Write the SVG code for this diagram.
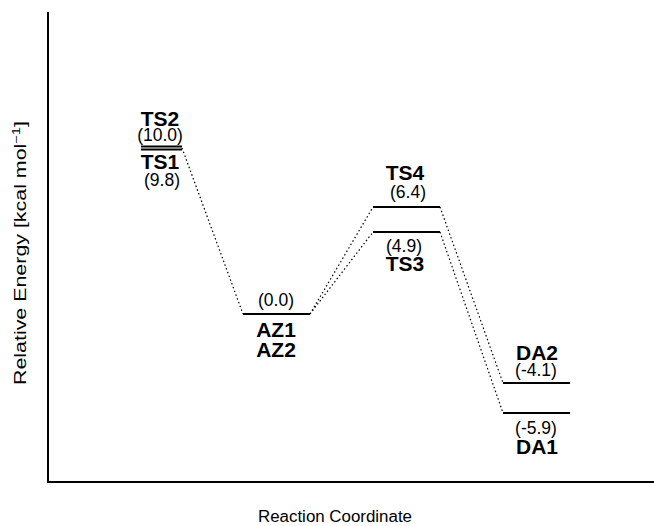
<svg xmlns="http://www.w3.org/2000/svg" width="654" height="526" viewBox="0 0 654 526">
  <style>
    .axis { stroke: #000; stroke-width: 2; fill: none; }
    .level { stroke: #000; stroke-width: 2; fill: none; }
    .conn { stroke: #000; stroke-width: 1.2; stroke-dasharray: 1.5 2.5; fill: none; }
    .name { font-family: "Liberation Sans", Arial, sans-serif; font-weight: bold; font-size: 21px; text-anchor: middle; fill: #000; }
    .val { font-family: "Liberation Sans", Arial, sans-serif; font-size: 17.5px; text-anchor: middle; fill: #000; }
    .ax { font-family: "Liberation Sans", Arial, sans-serif; font-size: 16px; text-anchor: middle; fill: #000; }
  </style>
  <rect width="654" height="526" fill="#fff"/>

  <!-- axes -->
  <g id="axes">
    <line class="axis" x1="48" y1="12" x2="48" y2="483"/>
    <line class="axis" x1="47" y1="482" x2="654" y2="482"/>
    <text class="ax" transform="translate(26,253) rotate(-90)" textLength="264" lengthAdjust="spacingAndGlyphs">Relative Energy [kcal mol<tspan font-size="11" dy="-6">−1</tspan><tspan dy="6">]</tspan></text>
    <text class="ax" x="335" y="522" textLength="154" lengthAdjust="spacingAndGlyphs">Reaction Coordinate</text>
  </g>

  <!-- connectors between levels -->
  <g id="connectors">
    <line class="conn" x1="182" y1="148" x2="243" y2="314"/>
    <line class="conn" x1="310" y1="314" x2="373" y2="207"/>
    <line class="conn" x1="310" y1="314" x2="373" y2="232"/>
    <line class="conn" x1="440" y1="207" x2="503" y2="383"/>
    <line class="conn" x1="440" y1="232" x2="503" y2="413"/>
  </g>

  <g id="TS1-TS2">
    <line class="level" x1="141" y1="146.5" x2="182" y2="146.5" stroke-width="1.3"/>
    <line class="level" x1="141" y1="149.5" x2="182" y2="149.5" stroke-width="1.3"/>
    <text class="name" x="160" y="126">TS2</text>
    <text class="val" x="160" y="141">(10.0)</text>
    <text class="name" x="160" y="169">TS1</text>
    <text class="val" x="162" y="186">(9.8)</text>
  </g>

  <g id="AZ">
    <line class="level" x1="243" y1="314" x2="310" y2="314"/>
    <text class="val" x="276" y="306">(0.0)</text>
    <text class="name" x="276" y="337">AZ1</text>
    <text class="name" x="276" y="357">AZ2</text>
  </g>

  <g id="TS4">
    <line class="level" x1="373" y1="207" x2="440" y2="207"/>
    <text class="name" x="405" y="180">TS4</text>
    <text class="val" x="408" y="198">(6.4)</text>
  </g>

  <g id="TS3">
    <line class="level" x1="373" y1="232" x2="440" y2="232"/>
    <text class="val" x="404" y="252">(4.9)</text>
    <text class="name" x="405" y="271">TS3</text>
  </g>

  <g id="DA2">
    <line class="level" x1="503" y1="383" x2="570" y2="383"/>
    <text class="name" x="537" y="360">DA2</text>
    <text class="val" x="536" y="376">(-4.1)</text>
  </g>

  <g id="DA1">
    <line class="level" x1="503" y1="413" x2="570" y2="413"/>
    <text class="val" x="536" y="434">(-5.9)</text>
    <text class="name" x="537" y="454">DA1</text>
  </g>
</svg>
